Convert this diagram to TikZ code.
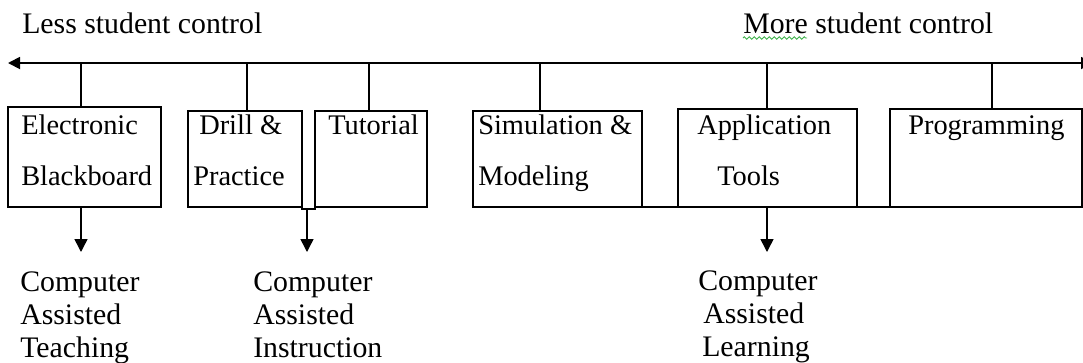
\documentclass[tikz,border=0pt]{standalone}
\usepackage{fontspec}
\setmainfont{Liberation Serif}
\usetikzlibrary{arrows.meta,decorations.pathmorphing}
\newlength{\du}
\setlength{\du}{0.75pt}
\definecolor{spellgreen}{rgb}{0.250000, 0.700000, 0.300000}
\tikzset{
  boxstyle/.style={draw, line width=1.5\du, inner sep=0pt, outer sep=0pt},
  boxtext/.style={anchor=north west, inner sep=0pt, align=left, font=\fontsize{21.3}{37.9}\selectfont},
  outtext/.style={anchor=north west, inner sep=0pt, align=left, font=\fontsize{22.35}{24.75}\selectfont},
  endtext/.style={anchor=base west, inner sep=0pt, font=\fontsize{22.35}{26}\selectfont},
  downarrow/.style={line width=1.5\du, -{Triangle[length=9.75pt,width=9.75pt]}},
}
\begin{document}
\begin{tikzpicture}
\pgftransformxscale{1.000000}
\pgftransformyscale{-1.000000}
\useasboundingbox (0\du,0\du) rectangle (1083\du,362\du);
% ends of the scale
\node[endtext] (less) at (22.000000\du,33.000000\du){Less student control};
\node[endtext] (more) at (743.000000\du,33.000000\du){More student control};
\draw[spellgreen, line width=0.9\du, decorate, decoration={zigzag, segment length=5\du, amplitude=1.2\du}]
  (more.base west) ++(0,5\du) -- ++(64\du,0);
\coordinate (axl) at (8.000000\du,63.000000\du);
\coordinate (axr) at (1093.000000\du,63.000000\du);
\draw[line width=1.8\du, {Triangle[length=9pt,width=9pt]}-{Triangle[length=9pt,width=9pt]}] (axr) -- (axl);
% the boxes
\node[boxstyle, minimum width=153\du, minimum height=100\du] (eb) at (84.500000\du,157.000000\du){};
\node[boxstyle, minimum width=114\du, minimum height=96\du] (dp) at (245.000000\du,159.000000\du){};
\node[boxstyle, minimum width=112\du, minimum height=96\du] (tu) at (371.000000\du,159.000000\du){};
\node[boxstyle, minimum width=169\du, minimum height=96\du] (sm) at (557.500000\du,159.000000\du){};
\node[boxstyle, minimum width=179\du, minimum height=98\du] (apt) at (767.500000\du,158.000000\du){};
\node[boxstyle, minimum width=192\du, minimum height=98\du] (pg) at (986.000000\du,158.000000\du){};
\node[boxtext] (ebt) at (21.000000\du,115.000000\du){Electronic\\Blackboard};
\node[boxtext] (dpt) at (193.000000\du,115.000000\du){\hspace*{6\du}Drill \&\\Practice};
\node[boxtext] (tut) at (328.000000\du,115.000000\du){Tutorial};
\node[boxtext] (smt) at (478.000000\du,115.000000\du){Simulation \&\\Modeling};
\node[boxtext] (aptt) at (697.000000\du,115.000000\du){Application\\\hspace*{20\du}Tools};
\node[boxtext] (pgt) at (908.000000\du,115.000000\du){Programming};
\foreach \n/\x in {eb/81,dp/247,tu/369,sm/540,apt/767,pg/992}
  \draw[line width=1.5\du] (axl -| \x\du,0) -- (\n.north -| \x\du,0);
\draw[line width=1.5\du] (dp.south east) -- ++(0,2\du) -| (tu.south west);
\draw[line width=1.5\du] (sm.south east) -- (apt.south west);
\draw[line width=1.5\du] (apt.south east) -- (pg.south west);
% what comes out
\coordinate (catend) at (81.000000\du,252.000000\du);
\coordinate (ciaend) at (307.000000\du,252.000000\du);
\coordinate (calend) at (767.000000\du,252.000000\du);
\draw[downarrow] (eb.south -| catend) -- (catend);
\draw[downarrow] (dp.south -| ciaend) ++(0,2\du) -- (ciaend);
\draw[downarrow] (apt.south -| calend) -- (calend);
\node[outtext] (cat) at (20.000000\du,271.000000\du){Computer\\Assisted\\Teaching};
\node[outtext] (cia) at (253.000000\du,271.000000\du){Computer\\Assisted\\Instruction};
\node[outtext] (cal) at (698.000000\du,270.000000\du){Computer\\\hspace*{5\du}Assisted\\\hspace*{4\du}Learning};
\end{tikzpicture}
\end{document}
